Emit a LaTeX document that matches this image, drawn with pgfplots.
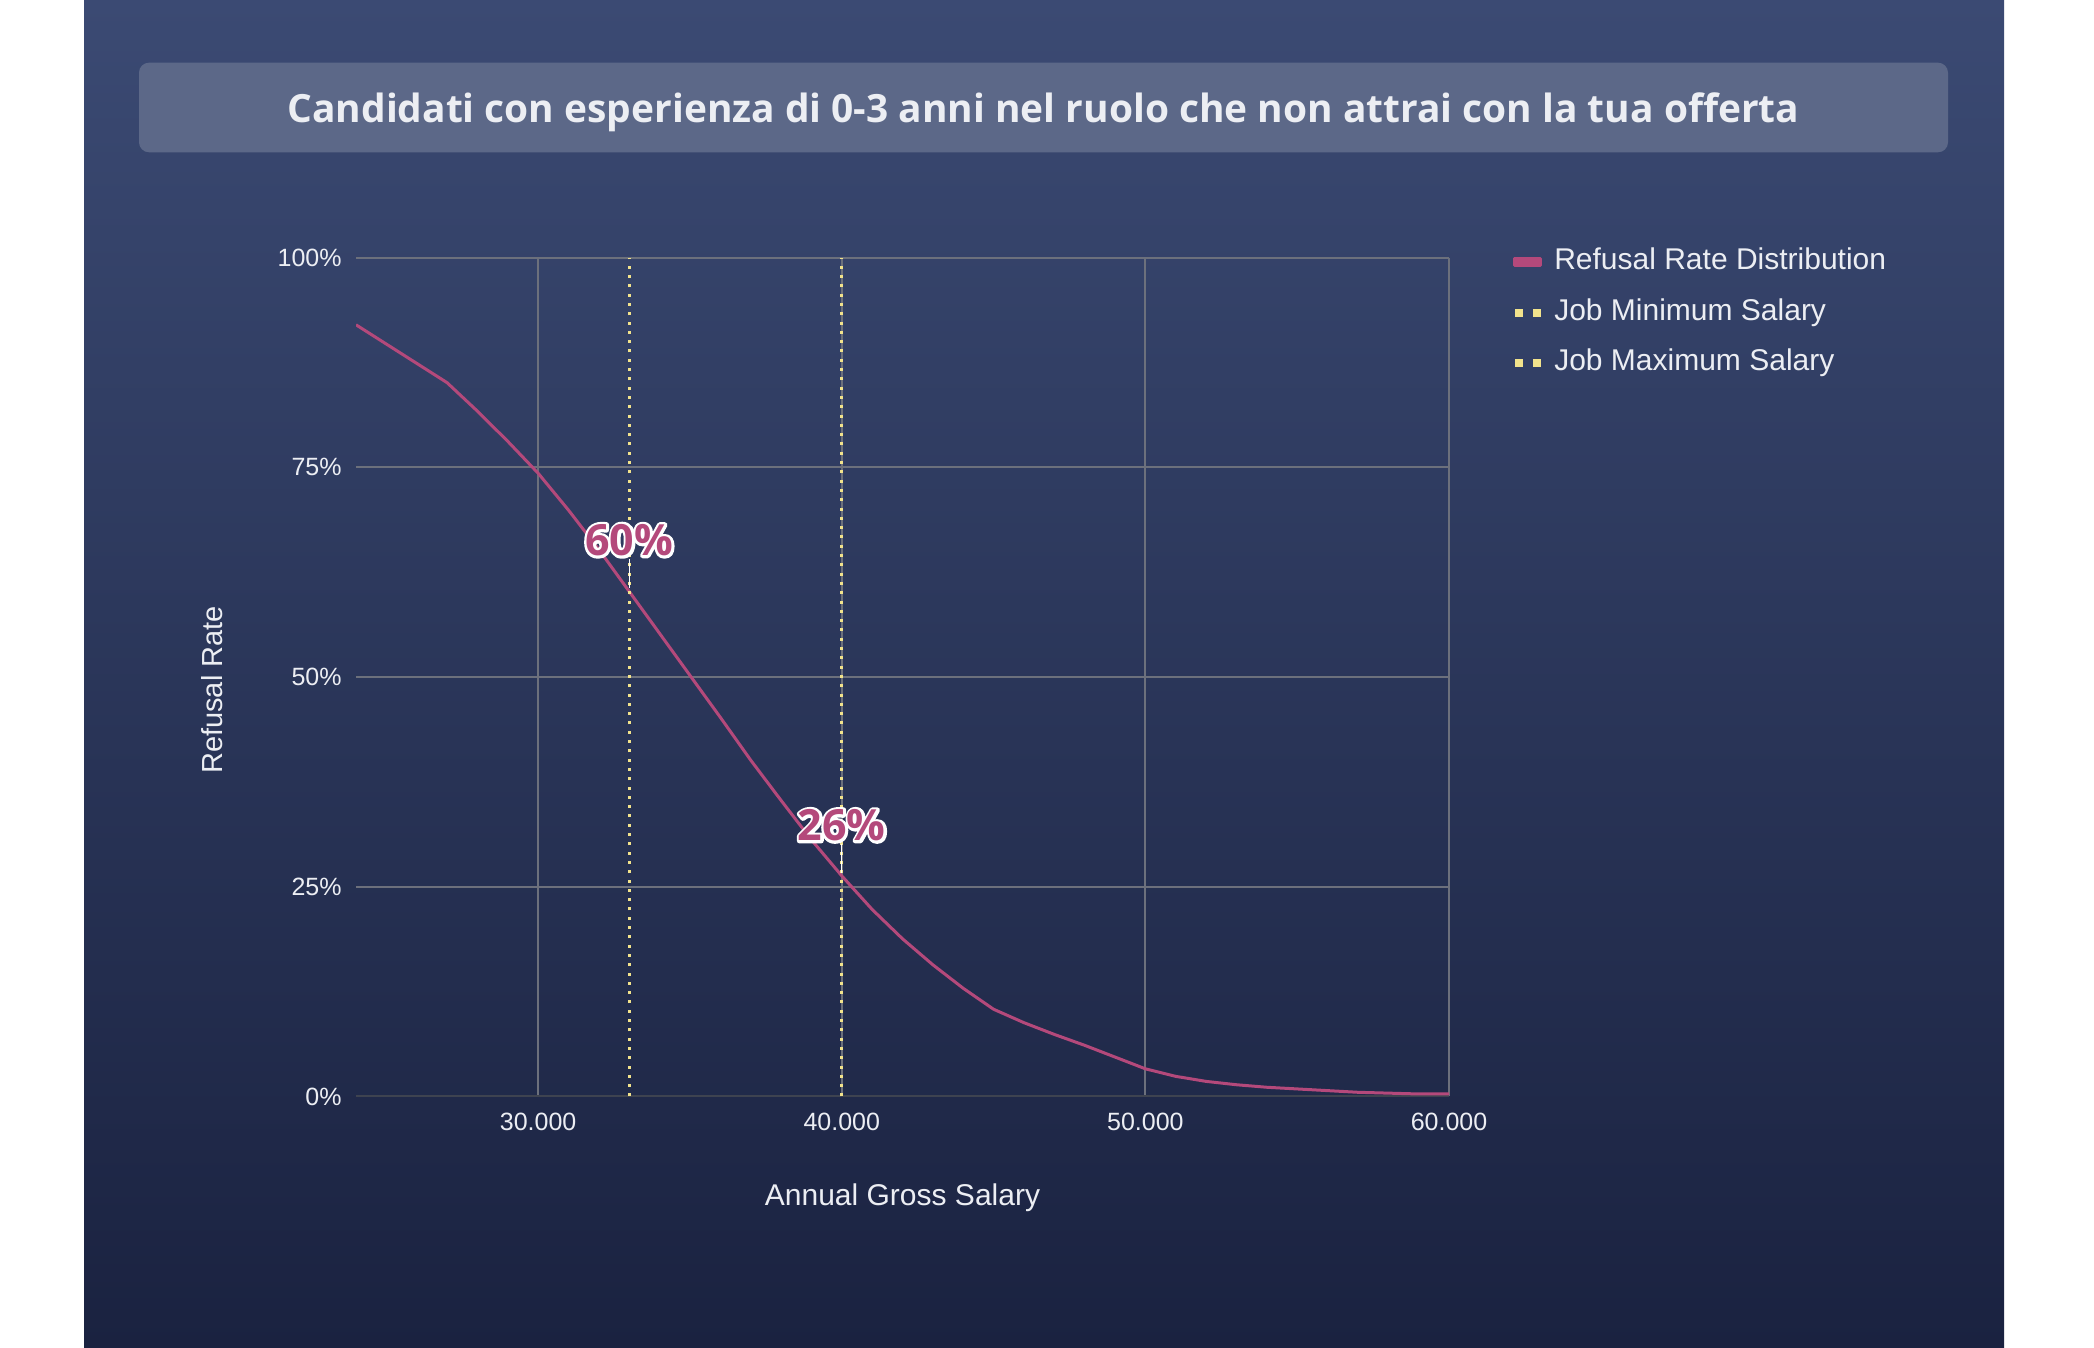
\documentclass[border=0pt]{standalone}
\usepackage{fontspec}
\setmainfont{Liberation Sans}
\newfontfamily\titlefont{Open Sans}
\newfontfamily\lblfont{Open Sans}
\usepackage{pgfplots}
\usepackage{pgfplotstable}
\pgfplotsset{compat=1.18}
\definecolor{bgtop}{HTML}{3B4A73}
\definecolor{bgbot}{HTML}{1A2240}
\definecolor{titlebox}{HTML}{5C6888}
\definecolor{gridc}{HTML}{6C707C}
\definecolor{basec}{HTML}{3E4350}
\definecolor{txt}{HTML}{ECEEF3}
\definecolor{pinkc}{HTML}{B4497B}
\definecolor{yellowc}{HTML}{F2E38C}
\newcommand\strokeonly[1]{\special{pdf:literal direct 1 Tr 2.7 w 1 j}#1\special{pdf:literal direct 0 Tr}}

\pgfplotstableread{
x y
24000 92.0
25000 89.7
26000 87.4
27000 85.1
28000 81.7
29000 78.1
30000 74.3
31000 69.9
32000 65.2
33000 60.2
34000 55.2
35000 50.2
36000 45.2
37000 40.1
38000 35.3
39000 30.6
40000 26.3
41000 22.3
42000 18.8
43000 15.7
44000 12.9
45000 10.4
46000 8.8
47000 7.4
48000 6.1
49000 4.7
50000 3.3
51000 2.4
52000 1.8
53000 1.4
54000 1.1
55000 0.9
56000 0.7
57000 0.5
58000 0.4
59000 0.3
60000 0.3
}\refusal

\begin{document}
\begin{tikzpicture}
\useasboundingbox (0,0) rectangle (1047pt,674pt);
\fill[white] (0,0) rectangle (1047pt,674pt);
\shade[top color=bgtop, bottom color=bgbot] (42pt,0) rectangle (1002pt,674pt);
\fill[titlebox, rounded corners=5pt] (69.5pt,597.85pt) rectangle (974pt,642.65pt);
\node[anchor=base, text=txt, font=\titlefont\bfseries\fontsize{19.45}{23}\selectfont, inner sep=0pt] at (521.75pt,612.65pt) {Candidati con esperienza di 0-3 anni nel ruolo che non attrai con la tua offerta};
\begin{axis}[
  at={(178pt,125.75pt)}, anchor=south west,
  scale only axis, width=546.5pt, height=419.4pt,
  xmin=24000, xmax=60000, ymin=0, ymax=100,
  xtick={30000,40000,50000,60000}, xticklabels={30.000,40.000,50.000,60.000},
  ytick={25,50,75,100}, yticklabels={25\%,50\%,75\%,100\%},
  extra y ticks={0}, extra y tick labels={0\%},
  extra y tick style={major grid style={color=basec, line width=1pt}},
  grid=major, major grid style={color=gridc, line width=1pt},
  major tick length=0pt,
  axis line style={draw=none},
  ticklabel style={text=txt, font=\fontsize{12.5}{15}\selectfont, inner sep=0pt},
  yticklabel style={xshift=-7pt},
  xticklabel style={yshift=-8.2pt},
  scaled ticks=false,
  xlabel={Annual Gross Salary},
  ylabel={Refusal Rate},
  xlabel style={at={(axis description cs:0.5,-0.1305)}, anchor=base, inner sep=0pt, text=txt, font=\fontsize{15}{18}\selectfont},
  ylabel style={at={(axis description cs:-0.122,0.4846)}, anchor=base, inner sep=0pt, text=txt, font=\fontsize{14.5}{17}\selectfont},
  legend cell align=left,
  legend style={at={(1,1)}, anchor=north west, xshift=32.15pt, yshift=5.05pt,
    draw=none, fill=none, inner sep=0pt, outer sep=0pt,
    row sep=10.75pt, column sep=6pt, text=txt,
    font=\fontsize{15}{18}\selectfont,
    nodes={inner sep=0pt, text height=11pt, text depth=3.5pt}},
]
\addplot[pinkc, line width=1.5pt, line join=round,
  legend image code/.code={\fill[pinkc, solid] (0pt,-1.65pt) rectangle (13pt,1.65pt);}]
  table[x=x,y=y]{\refusal};
\addlegendentry{Refusal Rate Distribution}
\addplot[yellowc, line width=1.5pt, dash pattern=on 1.5pt off 3.15pt,
  legend image code/.code={\fill[yellowc, solid, draw=none] (0pt,-2pt) rectangle (4pt,2pt); \fill[yellowc, solid, draw=none] (9.2pt,-2pt) rectangle (13pt,2pt);}]
  coordinates {(33000,0) (33000,100)};
\addlegendentry{Job Minimum Salary}
\addplot[yellowc, line width=1.5pt, dash pattern=on 1.5pt off 3.15pt,
  legend image code/.code={\fill[yellowc, solid, draw=none] (0pt,-2pt) rectangle (4pt,2pt); \fill[yellowc, solid, draw=none] (9.2pt,-2pt) rectangle (13pt,2pt);}]
  coordinates {(40000,0) (40000,100)};
\addlegendentry{Job Maximum Salary}
\coordinate (p1) at (axis cs:33000,60);
\coordinate (p2) at (axis cs:40000,26);
\end{axis}
\foreach \p/\t in {p1/60, p2/26}{
  \draw[white, line width=0.7pt] ([yshift=2.5pt]\p) -- ([yshift=17pt]\p);
  \node[text=white, font=\lblfont\bfseries\fontsize{21.5}{25}\selectfont, inner sep=0pt, anchor=center, yshift=26.5pt] at (\p) {\strokeonly{\t\%}};
  \node[text=pinkc, font=\lblfont\bfseries\fontsize{21.5}{25}\selectfont, inner sep=0pt, anchor=center, yshift=26.5pt] at (\p) {\t\%};
}
\end{tikzpicture}
\end{document}
